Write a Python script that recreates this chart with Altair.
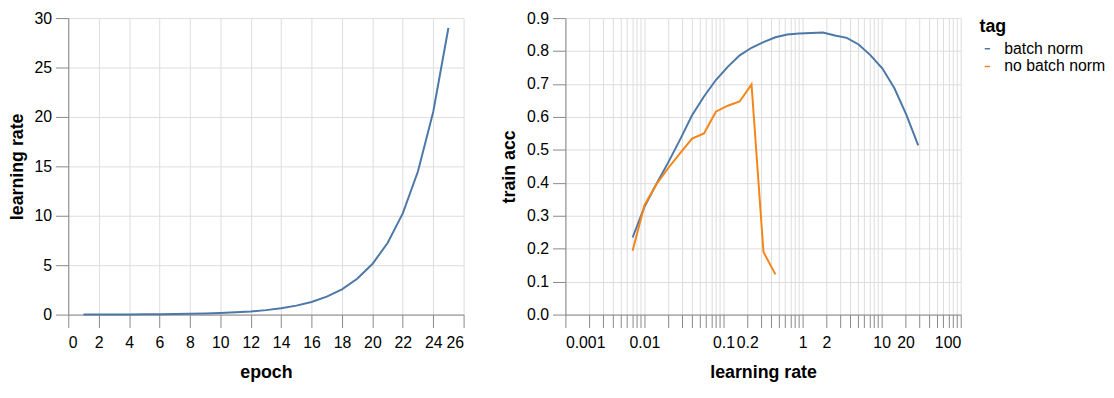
import altair as alt
import pandas as pd

epochs = list(range(1, 26))
epoch_lr = [0.00708, 0.01, 0.0142, 0.02, 0.0283, 0.04, 0.0566, 0.08, 0.113, 0.16,
            0.226, 0.32, 0.453, 0.64, 0.905, 1.28, 1.81, 2.56, 3.62, 5.12,
            7.24, 10.24, 14.5, 20.5, 29.0]

bn_lr = epoch_lr
bn_acc = [0.234, 0.327, 0.397, 0.462, 0.532, 0.605, 0.662, 0.712, 0.752, 0.787,
          0.810, 0.827, 0.842, 0.850, 0.853, 0.855, 0.856, 0.847, 0.840, 0.820,
          0.787, 0.747, 0.687, 0.607, 0.514]

nobn_lr = epoch_lr[:13]
nobn_acc = [0.194, 0.332, 0.396, 0.445, 0.490, 0.534, 0.550, 0.616, 0.634, 0.647,
            0.699, 0.190, 0.122]

tags = ["batch norm", "no batch norm"]

df_lr = pd.DataFrame({"epoch": epochs, "learning rate": epoch_lr})
df_acc = pd.concat([
    pd.DataFrame({"learning rate": bn_lr, "train acc": bn_acc, "tag": tags[0]}),
    pd.DataFrame({"learning rate": nobn_lr, "train acc": nobn_acc, "tag": tags[1]}),
])

left = alt.Chart(df_lr).mark_line(color="#4c78a8").encode(
    x=alt.X("epoch:Q", scale=alt.Scale(domain=[0, 26]), axis=alt.Axis(tickCount=13)),
    y=alt.Y("learning rate:Q"),
).properties(width=400, height=300)

right = alt.Chart(df_acc).mark_line().encode(
    x=alt.X("learning rate:Q", scale=alt.Scale(type="log", domain=[0.001, 100])),
    y=alt.Y("train acc:Q", axis=alt.Axis(format=".1f")),
    color=alt.Color("tag:N", scale=alt.Scale(domain=tags, range=["#4c78a8", "#f58518"])),
).properties(width=400, height=300)

chart = alt.hconcat(left, right, spacing=36).properties(padding=0).configure(
    font="Liberation Sans",
).configure_axis(
    labelFontSize=16, titleFontSize=18, labelFont="Liberation Sans", titleFont="Liberation Sans",
    tickSize=13, labelPadding=4, titlePadding=8,
).configure_axisX(
    labelPadding=7, titlePadding=14,
).configure_legend(
    labelFontSize=16, titleFontSize=18, symbolSize=30, labelOffset=9,
).configure_view(stroke=None)

chart.save("out.html", embed_options={"renderer": "svg", "actions": False})
